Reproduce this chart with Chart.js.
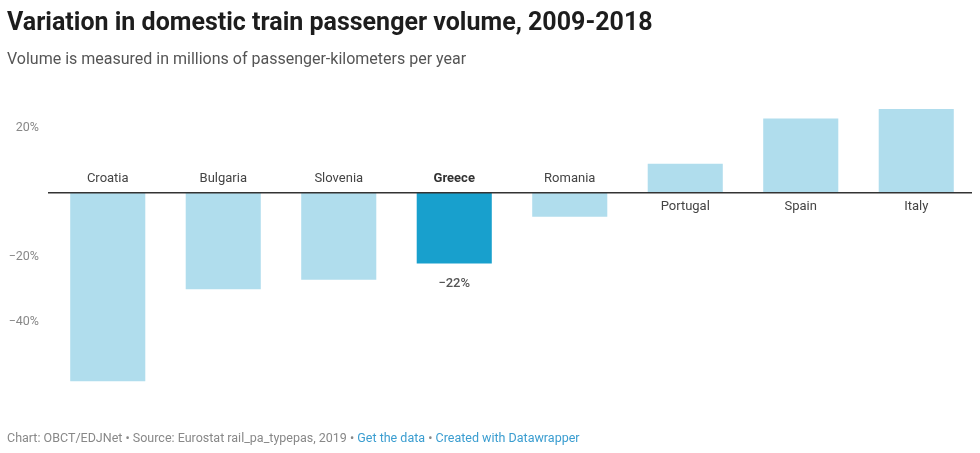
<!DOCTYPE html>
<html>
<head>
<meta charset="utf-8">
<script src="https://cdn.jsdelivr.net/npm/chart.js@4"></script>
<style>
	body { margin: 0; background: #fff; font-family: Roboto, "Noto Sans", sans-serif; }
	#wrap { position: relative; width: 980px; height: 453px; overflow: hidden; }
	#grafica { position: absolute; left: 0; top: 0; }
	.titulo { position: absolute; left: 7px; top: 7px; font-size: 25px; font-weight: 700; color: #1d1d1d; white-space: nowrap; }
	.subtitulo { position: absolute; left: 7px; top: 49px; font-size: 16px; color: #555; white-space: nowrap; }
	.pie { position: absolute; left: 7px; top: 430px; font-size: 12.5px; color: #888; white-space: nowrap; }
	.pie span { color: #3a9dd0; }
</style>
</head>
<body>
<div id="wrap">
	<canvas id="grafica" width="980" height="453"></canvas>
	<div class="titulo">Variation in domestic train passenger volume, 2009-2018</div>
	<div class="subtitulo">Volume is measured in millions of passenger-kilometers per year</div>
	<div class="pie">Chart: OBCT/EDJNet • Source: Eurostat rail_pa_typepas, 2019 • <span>Get the data</span> • <span>Created with Datawrapper</span></div>
</div>
<script>
	const paises = ["Croatia", "Bulgaria", "Slovenia", "Greece", "Romania", "Portugal", "Spain", "Italy"];
	const variacion = [-58.5, -30, -27, -22, -7.5, 9, 23, 26];
	const marcasY = [-40, -20, 0, 20];
	const destacado = "Greece";

	const colores = paises.map((p) => (p === destacado ? "#18a0cd" : "#b0dded"));
	const porcentaje = (v) => (v < 0 ? "\u2212" + Math.abs(v) : v) + "%";

	// etiquetas de paises junto a la linea del cero y valor del destacado
	const etiquetas = {
		id: "etiquetas",
		afterDatasetsDraw(chart) {
			const { ctx, scales } = chart;
			const y0 = scales.y.getPixelForValue(0);
			ctx.save();
			ctx.strokeStyle = "#333";
			ctx.lineWidth = 1.5;
			ctx.beginPath();
			ctx.moveTo(48, y0);
			ctx.lineTo(972, y0);
			ctx.stroke();

			ctx.textAlign = "center";
			ctx.textBaseline = "middle";
			const barras = chart.getDatasetMeta(0).data;
			paises.forEach((p, i) => {
				const x = barras[i].x;
				const fuerte = p === destacado;
				ctx.font = (fuerte ? "700 " : "400 ") + "13px Roboto";
				ctx.fillStyle = fuerte ? "#333" : "#444";
				ctx.fillText(p, x, variacion[i] < 0 ? y0 - 14 : y0 + 14);
				if (fuerte) {
					ctx.font = "500 13px Roboto";
					ctx.fillStyle = "#555";
					ctx.fillText(porcentaje(variacion[i]), x, barras[i].y + 20);
				}
			});
			ctx.restore();
		},
	};

	new Chart(document.getElementById("grafica"), {
		type: "bar",
		data: {
			labels: paises,
			datasets: [
				{
					data: variacion,
					backgroundColor: colores,
					borderWidth: 0,
					barPercentage: 0.65,
					categoryPercentage: 1,
				},
			],
		},
		options: {
			responsive: false,
			animation: false,
			layout: { padding: { left: 0, right: 6, top: 96, bottom: 67 } },
			scales: {
				x: { display: false },
				y: {
					min: -60,
					max: 30,
					afterFit(scale) {
						scale.width = 50;
					},
					afterBuildTicks(scale) {
						scale.ticks = marcasY.map((v) => ({ value: v }));
					},
					grid: { display: false, drawTicks: false },
					border: { display: false },
					ticks: {
						padding: 11,
						color: "#888",
						font: { family: "Roboto", size: 12.5 },
						callback: (v) => (v === 0 ? "" : porcentaje(v)),
					},
				},
			},
			plugins: {
				legend: { display: false },
				tooltip: { enabled: false },
			},
		},
		plugins: [etiquetas],
	});
</script>
</body>
</html>
